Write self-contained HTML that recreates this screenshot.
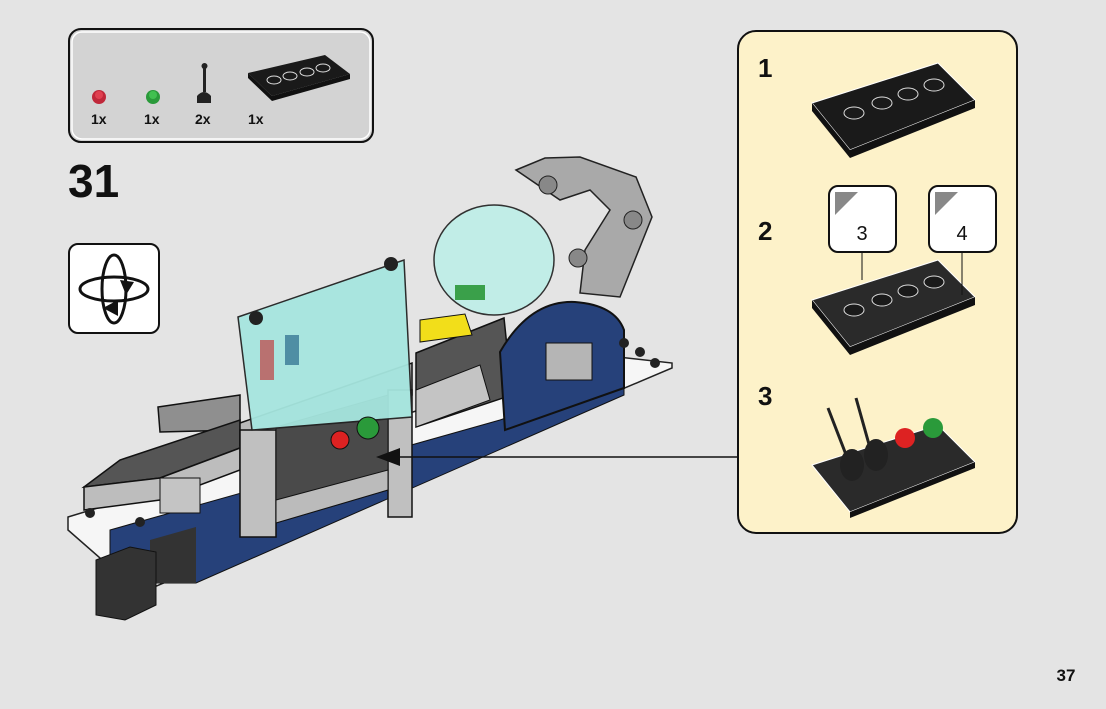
<!DOCTYPE html>
<html><head><meta charset="utf-8"><style>
html,body{margin:0;padding:0;background:#e4e4e4;width:1106px;height:709px;overflow:hidden;font-family:"Liberation Sans",sans-serif}
</style></head><body>
<svg width="1106" height="709" viewBox="0 0 1106 709" xmlns="http://www.w3.org/2000/svg" font-family="Liberation Sans, sans-serif">
<rect width="1106" height="709" fill="#e4e4e4"/>
<!-- parts box -->
<rect x="69" y="29" width="304" height="113" rx="12" fill="#d3d3d3" stroke="#111" stroke-width="2"/>
<rect x="72" y="32" width="298" height="107" rx="10" fill="none" stroke="#fff" stroke-width="1.5"/>
<circle cx="99" cy="97" r="7" fill="#c0283a"/><circle cx="99" cy="95" r="4" fill="#e04050"/>
<circle cx="153" cy="97" r="7" fill="#2a9a3a"/><circle cx="153" cy="95" r="4" fill="#40c050"/>
<rect x="203" y="66" width="3" height="26" fill="#222"/><circle cx="204.5" cy="66" r="3" fill="#222"/>
<path d="M197 103 L197 96 Q204 88 211 96 L211 103 Z" fill="#222"/>
<polygon points="248,73 325,55 350,74 272,96" fill="#1a1a1a"/>
<polygon points="248,73 272,96 272,101 248,78" fill="#111"/>
<polygon points="272,96 350,74 350,79 272,101" fill="#111"/>
<g fill="#1a1a1a" stroke="#ddd" stroke-width="1">
<ellipse cx="274" cy="80" rx="7" ry="4"/><ellipse cx="290" cy="76" rx="7" ry="4"/><ellipse cx="307" cy="72" rx="7" ry="4"/><ellipse cx="323" cy="68" rx="7" ry="4"/></g>
<g font-weight="bold" font-size="14" fill="#111">
<text x="91" y="124">1x</text><text x="144" y="124">1x</text><text x="195" y="124">2x</text><text x="248" y="124">1x</text></g>
<text x="68" y="197" font-size="46" font-weight="bold" fill="#111">31</text>
<!-- rotate icon -->
<rect x="69" y="244" width="90" height="89" rx="9" fill="#fff" stroke="#111" stroke-width="2"/>
<ellipse cx="114" cy="289" rx="34" ry="12" fill="none" stroke="#111" stroke-width="3"/>
<ellipse cx="114" cy="289" rx="12" ry="34" fill="none" stroke="#111" stroke-width="3"/>
<polygon points="103,308 118,300 118,316" fill="#111"/>
<polygon points="126,295 120,280 134,282" fill="#111"/>

<!-- model -->
<!-- white base -->
<polygon points="68,517 600,355 672,363 672,368 140,593 68,530" fill="#f6f6f6" stroke="#222" stroke-width="1.5"/>
<!-- blue lower body -->
<polygon points="110,530 500,420 624,378 624,395 196,583 110,583" fill="#26417a" stroke="#111"/>
<polygon points="150,540 196,527 196,583 150,583" fill="#333"/>
<!-- far-left gray slab -->
<polygon points="158,407 240,395 240,430 160,432" fill="#8f8f8f" stroke="#111" stroke-width="1.5"/>
<!-- left gray slab -->
<polygon points="84,487 120,460 240,420 240,448 160,478" fill="#555" stroke="#111" stroke-width="1.5"/>
<polygon points="84,487 160,478 240,448 240,470 160,500 84,510" fill="#bdbdbd" stroke="#111" stroke-width="1.5"/>
<rect x="160" y="478" width="40" height="35" fill="#c4c4c4" stroke="#111"/>
<!-- center pillar structure -->
<polygon points="240,423 412,363 412,395 240,445" fill="#b8b8b8" stroke="#111" stroke-width="1.5"/>
<rect x="240" y="430" width="36" height="107" fill="#c0c0c0" stroke="#111" stroke-width="1.5"/>
<rect x="388" y="390" width="24" height="127" fill="#c0c0c0" stroke="#111" stroke-width="1.5"/>
<polygon points="276,427 388,395 388,490 276,523" fill="#4a4a4a" stroke="#111"/>
<polygon points="276,500 388,470 388,490 276,523" fill="#bbb" stroke="#111"/>
<!-- middle gray tiles -->
<polygon points="416,353 504,318 512,395 416,427" fill="#555" stroke="#111" stroke-width="1.5"/>
<polygon points="416,390 480,365 490,400 416,427" fill="#c4c4c4" stroke="#111"/>
<!-- yellow -->
<polygon points="420,320 465,314 472,335 420,342" fill="#f2de1a" stroke="#111"/>
<!-- robot arm -->
<polygon points="516,170 545,158 580,157 636,177 652,217 620,297 580,293 585,250 610,210 590,190 560,200" fill="#a9a9a9" stroke="#222" stroke-width="1.5"/>
<circle cx="548" cy="185" r="9" fill="#888" stroke="#222"/><circle cx="633" cy="220" r="9" fill="#888" stroke="#222"/>
<circle cx="578" cy="258" r="9" fill="#888" stroke="#222"/>
<!-- dome -->
<ellipse cx="494" cy="260" rx="60" ry="55" fill="#bfeee8" stroke="#222" stroke-width="1.5" opacity="0.92"/>
<rect x="455" y="285" width="30" height="15" fill="#3aa04a"/>
<!-- blue arch -->
<path d="M500 352 Q530 300 575 302 Q615 305 624 330 L624 388 L505 430 Z" fill="#26417a" stroke="#111" stroke-width="2"/>
<rect x="546" y="343" width="46" height="37" fill="#b5b5b5" stroke="#111"/>
<!-- studs on base -->
<g fill="#222"><circle cx="624" cy="343" r="5"/><circle cx="655" cy="363" r="5"/><circle cx="640" cy="352" r="5"/><circle cx="90" cy="513" r="5"/><circle cx="140" cy="522" r="5"/></g>
<!-- screen -->
<polygon points="238,317 404,260 412,417 252,430" fill="#a6e6df" stroke="#222" stroke-width="1.5" opacity="0.95"/>
<rect x="260" y="340" width="14" height="40" fill="#c04040" opacity="0.7"/>
<rect x="285" y="335" width="14" height="30" fill="#2a6a8a" opacity="0.7"/>
<circle cx="256" cy="318" r="7" fill="#222"/><circle cx="391" cy="264" r="7" fill="#222"/>
<!-- buttons -->
<circle cx="340" cy="440" r="9" fill="#d22" stroke="#111"/><circle cx="368" cy="428" r="11" fill="#2a9a3a" stroke="#111"/>
<!-- black brick -->
<polygon points="96,560 130,547 156,552 156,605 125,620 96,615" fill="#333" stroke="#111"/>
<!-- arrow -->
<line x1="737" y1="457" x2="395" y2="457" stroke="#111" stroke-width="1.5"/>
<polygon points="376,457 400,448 400,466" fill="#111"/>
<!-- callout panel -->
<rect x="738" y="31" width="279" height="502" rx="18" fill="#fdf2c9" stroke="#111" stroke-width="2"/>
<g font-size="26" font-weight="bold" fill="#111"><text x="758" y="77">1</text><text x="758" y="240">2</text><text x="758" y="405">3</text></g>
<polygon points="812,103 938,63 975,100 850,150" fill="#1a1a1a" stroke="#fff"/>
<polygon points="812,103 850,150 850,158 812,111" fill="#111"/><polygon points="850,150 975,100 975,108 850,158" fill="#111"/>
<g fill="#1a1a1a" stroke="#ddd"><ellipse cx="854" cy="113" rx="10" ry="6"/><ellipse cx="882" cy="103" rx="10" ry="6"/><ellipse cx="908" cy="94" rx="10" ry="6"/><ellipse cx="934" cy="85" rx="10" ry="6"/></g>
<polygon points="812,300 938,260 975,297 850,347" fill="#2a2a2a" stroke="#fff"/>
<polygon points="812,300 850,347 850,355 812,308" fill="#111"/><polygon points="850,347 975,297 975,305 850,355" fill="#111"/>
<g fill="#1a1a1a" stroke="#ddd"><ellipse cx="854" cy="310" rx="10" ry="6"/><ellipse cx="882" cy="300" rx="10" ry="6"/><ellipse cx="908" cy="291" rx="10" ry="6"/><ellipse cx="934" cy="282" rx="10" ry="6"/></g>
<rect x="829" y="186" width="67" height="66" rx="9" fill="#fff" stroke="#111" stroke-width="2"/>
<rect x="929" y="186" width="67" height="66" rx="9" fill="#fff" stroke="#111" stroke-width="2"/>
<polygon points="835,192 858,192 835,215" fill="#888"/><polygon points="935,192 958,192 935,215" fill="#888"/>
<text x="862" y="240" font-size="20" text-anchor="middle" fill="#111">3</text>
<text x="962" y="240" font-size="20" text-anchor="middle" fill="#111">4</text>
<line x1="862" y1="252" x2="862" y2="280" stroke="#111"/><line x1="962" y1="252" x2="962" y2="295" stroke="#111"/>
<polygon points="812,465 938,425 975,462 850,512" fill="#2a2a2a" stroke="#fff"/>
<polygon points="850,512 975,462 975,468 850,518" fill="#111"/>
<line x1="828" y1="408" x2="850" y2="465" stroke="#222" stroke-width="3"/><line x1="856" y1="398" x2="872" y2="455" stroke="#222" stroke-width="3"/>
<ellipse cx="852" cy="465" rx="12" ry="16" fill="#222"/><ellipse cx="876" cy="455" rx="12" ry="16" fill="#222"/>
<circle cx="905" cy="438" r="10" fill="#d22"/><circle cx="933" cy="428" r="10" fill="#2a9a3a"/>
<text x="1066" y="681" font-size="17" font-weight="bold" text-anchor="middle" fill="#111">37</text>
</svg>
</body></html>
